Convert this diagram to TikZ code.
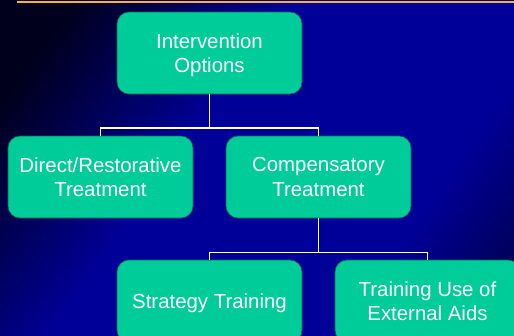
\documentclass[tikz,border=0pt]{standalone}
\usepackage{fontspec}
\setmainfont{Liberation Sans}
\usetikzlibrary{calc}
\definecolor{boxgreen}{HTML}{00CC99}
\definecolor{boxedge}{HTML}{00664C}
\definecolor{rulegold}{HTML}{F7B240}
\definecolor{bgdark}{HTML}{00001C}
\definecolor{bgmid}{HTML}{000099}
\definecolor{bgend}{HTML}{00004E}
\pgfdeclarehorizontalshading{slidebg}{100bp}{%
  color(0bp)=(bgdark); color(22bp)=(bgdark); color(42bp)=(bgmid);
  color(68bp)=(bgmid); color(82bp)=(bgend); color(100bp)=(bgend)}
\tikzset{
  optionbox/.style={draw=boxedge, line width=0.6pt, fill=boxgreen,
    rounded corners=12pt, minimum width=185pt, minimum height=82pt,
    align=center, text=white, inner sep=0pt, text depth=0pt,
    font=\fontsize{20.4}{24.5}\selectfont},
  branch/.style={draw=white, line width=1.6pt},
}
\begin{document}
\begin{tikzpicture}[x=1pt, y=-1pt]
  \useasboundingbox (0,0) rectangle (514,335);
  \clip (0,0) rectangle (514,335);
  % slide background
  \shade[shading=slidebg, shading angle=-35] (0,0) rectangle (514,335);
  % gold rule along the top
  \draw[rulegold, line width=2.2pt] (17,2) -- (514,2);

  % boxes
  \node[optionbox] (opts) at (209.5,53) {Intervention\\Options};
  \node[optionbox] (direct) at (100.5,177) {Direct/Restorative\\Treatment};
  \node[optionbox] (comp) at (318.5,177) {Compensatory\\Treatment};
  \node[optionbox] (strat) at (209.5,301) {Strategy Training};
  \node[optionbox] (aids) at (427.5,301) {Training Use of\\External Aids};

  % tree connectors
  \coordinate (j1) at (209.5,128);
  \coordinate (j2) at (318.5,252.5);
  \draw[branch] (opts.south) -- (j1);
  \draw[branch] (direct.north) |- (j1) -| (comp.north);
  \draw[branch] (comp.south) -- (j2);
  \draw[branch] (strat.north) |- (j2) -| (aids.north);
\end{tikzpicture}
\end{document}
